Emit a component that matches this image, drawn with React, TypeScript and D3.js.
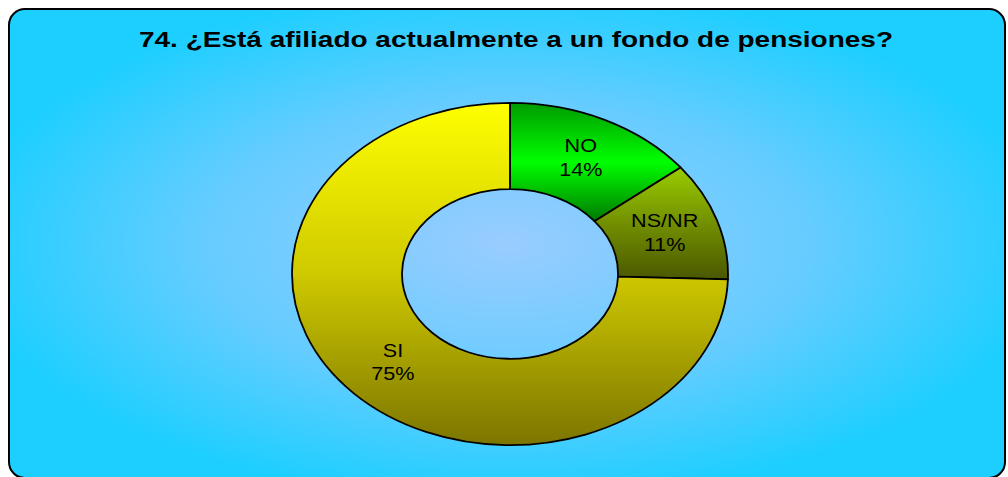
import * as d3 from 'd3';

const title = '74. ¿Está afiliado actualmente a un fondo de pensiones?';
const categories = ['NO', 'NS/NR', 'SI'];
const values = [14.3, 11.2, 74.5];

const sliceGradients: Record<string, string[]> = {
  NO: ['#009a00', '#00ff00', '#007800'],
  'NS/NR': ['#9acc00', '#728f00', '#4a5800'],
  SI: ['#ffff00', '#cfc900', '#7b7500'],
};

const width = 1008;
const height = 477;
const cx = 510;
const cy = 274;
const rOuter = 218;
const rInner = 108;
const ky = 0.785;

export default function App() {
  const total = d3.sum(values);
  const pie = d3.pie<number>().sort(null).value(d => d)(values);
  const arc = d3.arc<d3.PieArcDatum<number>>().innerRadius(rInner).outerRadius(rOuter);
  const labelArc = d3.arc<d3.PieArcDatum<number>>()
    .innerRadius((rInner + rOuter) / 2)
    .outerRadius((rInner + rOuter) / 2);

  return (
    <svg width={width} height={height} style={{ position: 'absolute', left: 0, top: 0 }}
      fontFamily="'Liberation Sans', Arial, sans-serif">
      <defs>
        <radialGradient id="bg" cx="0.5" cy="0.5" r="0.55">
          <stop offset="0" stopColor="#99ccff" />
          <stop offset="0.55" stopColor="#66ccff" />
          <stop offset="1" stopColor="#1ccfff" />
        </radialGradient>
        {categories.map((c, i) => (
          <linearGradient key={c} id={`g${i}`} x1="0" y1="0" x2="0" y2="1">
            <stop offset="0" stopColor={sliceGradients[c][0]} />
            <stop offset="0.5" stopColor={sliceGradients[c][1]} />
            <stop offset="1" stopColor={sliceGradients[c][2]} />
          </linearGradient>
        ))}
      </defs>
      <rect x={9} y={9} width={996} height={469} rx={16} ry={16}
        fill="url(#bg)" stroke="#000" strokeWidth={2} />
      <text x={516} y={47} textAnchor="middle" fontSize={22} fontWeight="bold"
        textLength={754} lengthAdjust="spacingAndGlyphs">{title}</text>

      <g transform={`translate(${cx},${cy}) scale(1,${ky})`}>
        {pie.map((d, i) => (
          <path key={categories[i]} d={arc(d) || ''} fill={`url(#g${i})`}
            stroke="#000" strokeWidth={1.8} vectorEffect="non-scaling-stroke" />
        ))}
      </g>

      {pie.map((d, i) => {
        const [lx, ly] = labelArc.centroid(d);
        const x = cx + lx;
        const y = cy + ly * ky - 1;
        const pct = Math.round((d.value / total) * 100) + '%';
        return (
          <g key={categories[i]} transform={`translate(${x},${y}) scale(1.2,1)`}
            fontSize={18} textAnchor="middle" fill="#000">
            <text x={0} y={-5.25}>{categories[i]}</text>
            <text x={0} y={18.25}>{pct}</text>
          </g>
        );
      })}
    </svg>
  );
}
